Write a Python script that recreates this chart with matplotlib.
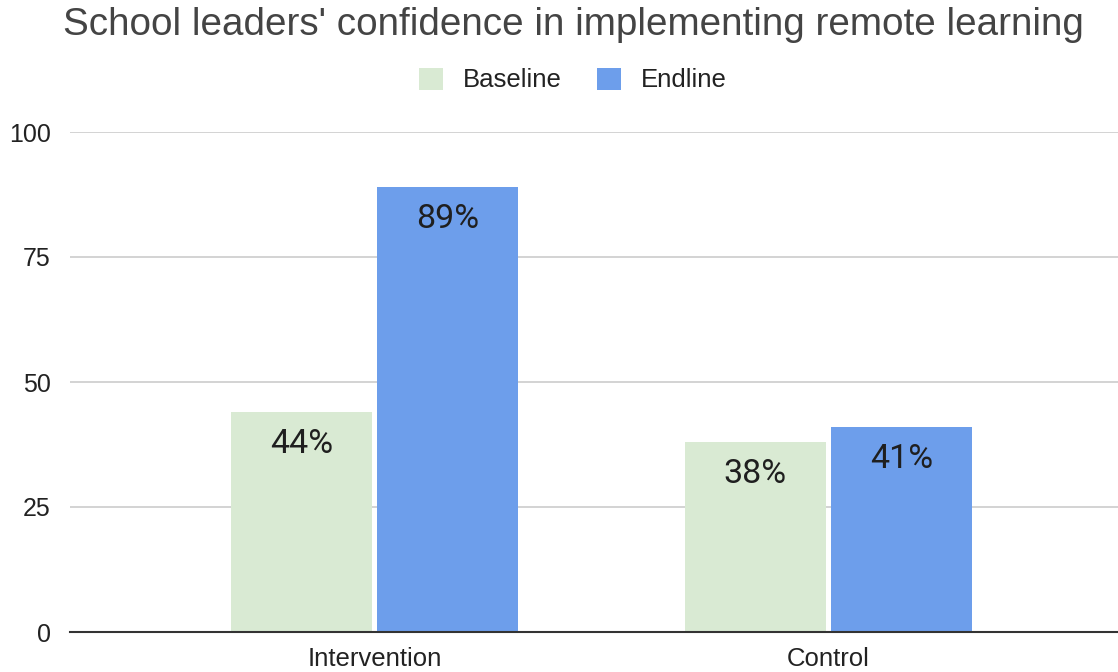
import matplotlib
matplotlib.use("Agg")
import matplotlib.pyplot as plt
from matplotlib.patches import Patch
import numpy as np

categories = ["Intervention", "Control"]
series_names = ["Baseline", "Endline"]
baseline = [44, 38]
endline = [89, 41]
yticks = [0, 25, 50, 75, 100]

colors = ["#d9ead3", "#6d9eeb"]

W, H = 1118, 672
fig = plt.figure(figsize=(W / 100, H / 100), dpi=100)
ax = fig.add_axes([70 / W, (H - 632) / H, 1048 / W, 500 / H])

x = np.arange(len(categories))
bw = 0.311
off = 0.1615
for i, (vals, c) in enumerate(zip([baseline, endline], colors)):
    b = ax.bar(x + (i * 2 - 1) * off, vals, width=bw, color=c, zorder=3)
    for rect, v in zip(b, vals):
        ax.annotate(f"{v}%", xy=(rect.get_x() + rect.get_width() / 2, rect.get_height()),
                    xytext=(0, -11.5), textcoords="offset points", ha="center", va="top",
                    fontsize=24.5, family="Roboto", color="#1f1f1f", zorder=4)

ax.set_xlim(-0.671, 1.638)
ax.set_ylim(0, 100)
ax.set_yticks(yticks)
ax.set_yticklabels([str(t) for t in yticks], fontsize=18, family="Liberation Sans", color="#222222")
ax.set_xticks(x)
ax.set_xticklabels(categories, fontsize=18.5, family="Liberation Sans", color="#222222")
ax.tick_params(axis="both", length=0)
ax.tick_params(axis="y", pad=14)
ax.tick_params(axis="x", pad=11)
ax.yaxis.grid(True, color="#cccccc", linewidth=1.2, zorder=0)
for s in ["top", "right", "left"]:
    ax.spines[s].set_visible(False)
ax.spines["bottom"].set_color("#333333")
ax.spines["bottom"].set_linewidth(1.5)
ax.spines["bottom"].set_zorder(5)

fig.text(573 / W, 1 - 35 / H, "School leaders' confidence in implementing remote learning",
         ha="center", va="baseline", fontsize=27.8, family="Liberation Sans", color="#444444")

handles = [Patch(facecolor=c, edgecolor="none") for c in colors]
fig.legend(handles, series_names, loc="center", bbox_to_anchor=(573 / W, 1 - 80 / H), ncol=2,
           frameon=False, prop={"family": "Liberation Sans", "size": 18.5},
           handlelength=0.95, handleheight=0.95, columnspacing=1.35, handletextpad=0.78,
           labelcolor="#222222")

fig.savefig("out.png", dpi=100, facecolor="white")
